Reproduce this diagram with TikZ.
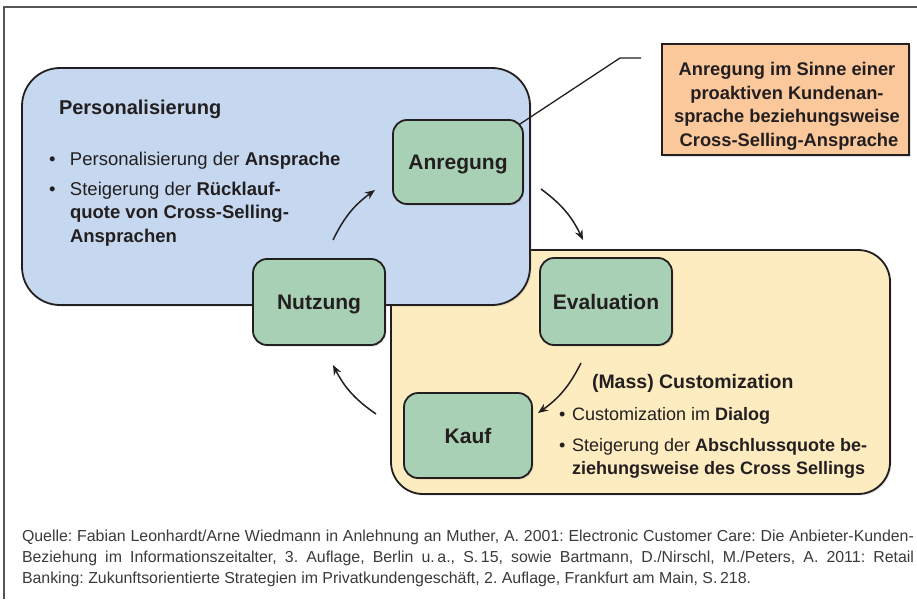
\documentclass[tikz,border=0pt]{standalone}
\usepackage{fontspec}
\setmainfont{Liberation Sans}
\usetikzlibrary{arrows.meta,shadows,calc}
\definecolor{ink}{HTML}{231F20}
\definecolor{blueF}{HTML}{C5D8EF}
\definecolor{yellowF}{HTML}{FDECC0}
\definecolor{greenF}{HTML}{A8D0B4}
\definecolor{orangeF}{HTML}{FAC89B}
\definecolor{footgray}{HTML}{3A3A3A}
\definecolor{framegray}{HTML}{555555}
\begin{document}
\begin{tikzpicture}[x=1pt,y=-1pt,
  every node/.style={inner sep=0pt, outer sep=0pt, text=ink},
  softshadow/.style={drop shadow={shadow xshift=1.5pt,shadow yshift=-1.5pt,opacity=0.22}},
  area/.style={draw=ink, line width=1.8pt, rounded corners=38pt, softshadow},
  stage/.style={draw=ink, fill=greenF, line width=1.8pt, rounded corners=14pt,
    text height=15pt, text depth=0pt, softshadow,
    font=\fontsize{21}{25}\selectfont\bfseries},
  flow/.style={-{Stealth[length=10pt,width=8pt]}, line width=1.5pt, draw=ink, bend left=14},
  body/.style={anchor=base west, font=\fontsize{18.5}{23.5}\selectfont},
  headline/.style={anchor=base west, font=\fontsize{20}{24}\selectfont\bfseries},
]
\useasboundingbox (0,0) rectangle (917,599);

% page frame
\draw[line width=1.3pt, framegray] (4,599) -- (4,7) -- (917,7);

% areas
\node[area, fill=yellowF, rounded corners=32pt, minimum width=499pt, minimum height=244pt] (cust) at (640.5,372) {};
\node[area, fill=blueF, minimum width=508pt, minimum height=237pt] (pers) at (276,186.5) {};

% stages
\node[stage, minimum width=130pt, minimum height=84pt] (anr) at (458,162) {Anregung};
\node[stage, minimum width=132pt, minimum height=86pt] (nutz) at (319,302) {Nutzung};
\node[stage, minimum width=132pt, minimum height=87pt] (eval) at (606,301.5) {Evaluation};
\node[stage, minimum width=128pt, minimum height=85pt] (kauf) at (468,435.5) {Kauf};

% callout
\coordinate (k1) at (620,58);
\coordinate (k2) at (641,58);
\draw[ink, line width=1.3pt] ($(anr.north east)+(-3,4)$) -- (k1) -- (k2);
\node[draw=ink, fill=orangeF, line width=1.5pt, minimum width=247pt, minimum height=111pt, softshadow] (note) at (785.5,99.5) {};
\node[anchor=base, font=\fontsize{18.3}{23.5}\selectfont\bfseries] (notetext) at (787,76)
  {\begin{tabular}[t]{@{}c@{}}Anregung im Sinne einer\\proaktiven Kundenan-\\sprache beziehungsweise\\\hspace{4pt}Cross-Selling-Ansprache\end{tabular}};

% cycle arrows
\coordinate (a1s) at (333,240); \coordinate (a1e) at (375,190);
\coordinate (a2s) at (541,189); \coordinate (a2e) at (583,240);
\coordinate (a3s) at (581,363); \coordinate (a3e) at (538,413);
\coordinate (a4s) at (376,414); \coordinate (a4e) at (333,365);
\draw[flow] (a1s) to (a1e);
\draw[flow] (a2s) to (a2e);
\draw[flow] (a3s) to (a3e);
\draw[flow] (a4s) to (a4e);

% texts in blue area
\node[headline] (perstitle) at (59,114) {Personalisierung};
\node[body] (perslist) at (49,165)
  {\begin{tabular}[t]{@{}p{21pt}@{}l@{}}
   • & Personalisierung der \textbf{Ansprache}\\[6.5pt]
   • & Steigerung der \textbf{Rücklauf-}\\
     & \textbf{quote von Cross-Selling-}\\
     & \textbf{Ansprachen}
   \end{tabular}};

% texts in yellow area
\node[anchor=base west, font=\fontsize{19.5}{24}\selectfont\bfseries] (custtitle) at (592,388) {(Mass) Customization};
\node[anchor=base west, font=\fontsize{18}{23.5}\selectfont] (custlist) at (559,420)
  {\begin{tabular}[t]{@{}p{13pt}@{}l@{}}
   • & Customization im \textbf{Dialog}\\[7.5pt]
   • & Steigerung der \textbf{Abschlussquote be-}\\
     & \textbf{ziehungsweise des Cross Sellings}
   \end{tabular}};

% source
\node[anchor=base west, text width=892pt, align=justify, text=footgray,
      font=\fontsize{15.9}{21}\selectfont\frenchspacing] (src) at (22,541)
  {Quelle: Fabian Leonhardt/Arne Wiedmann in Anlehnung an Muther, A. 2001: Electronic Customer Care: Die Anbieter-Kunden-\linebreak
   Beziehung im Informationszeitalter, 3. Auflage, Berlin u.\,a., S.\,15, sowie Bartmann, D./Nirschl, M./Peters, A. 2011: Retail\linebreak
   Banking: Zukunftsorientierte Strategien im Privatkundengeschäft, 2. Auflage, Frankfurt am Main, S.\,218.};
\end{tikzpicture}
\end{document}
